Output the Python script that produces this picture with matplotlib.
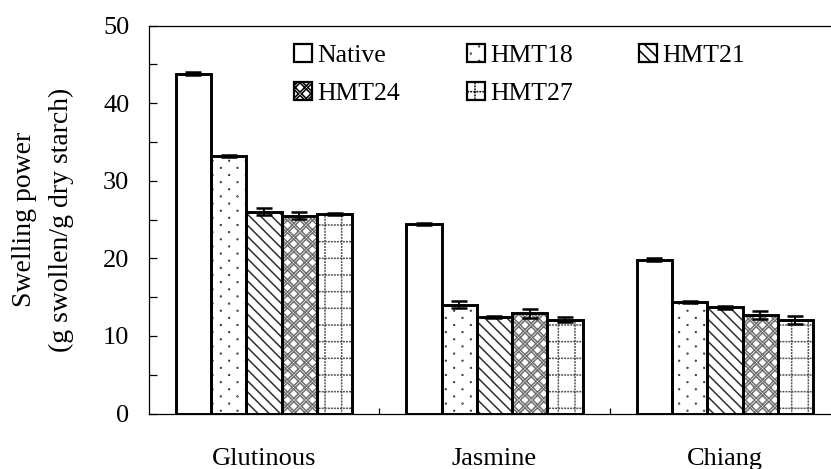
import numpy as np
import matplotlib
matplotlib.use("Agg")
import matplotlib.pyplot as plt
import matplotlib.hatch as mhatch
from matplotlib.path import Path
from matplotlib.patches import Patch
from matplotlib.ticker import MultipleLocator, FixedLocator

# Swelling power of native and heat-moisture treated rice starches
categories = ["Glutinous", "Jasmine", "Chiang"]
series = ["Native", "HMT18", "HMT21", "HMT24", "HMT27"]
values = {
    "Native": [43.8, 24.4, 19.8],
    "HMT18": [33.2, 14.0, 14.4],
    "HMT21": [26.0, 12.4, 13.7],
    "HMT24": [25.5, 12.9, 12.7],
    "HMT27": [25.7, 12.1, 12.1],
}
errors = {
    "Native": [0.15, 0.15, 0.2],
    "HMT18": [0.15, 0.45, 0.15],
    "HMT21": [0.45, 0.15, 0.2],
    "HMT24": [0.45, 0.6, 0.5],
    "HMT27": [0.15, 0.3, 0.5],
}
yticks = [0, 10, 20, 30, 40, 50]


# ---- fill patterns: staggered dots, dotted grid and weave --------------
class StaggeredDots(mhatch.HatchPatternBase):
    """Small dots, staggered rows ('.')."""
    def __init__(self, hatch, density):
        k = hatch.count(".")
        self.cols = 6 * k
        self.rows = 14 * k
        circ = Path.unit_circle()
        self.cv, self.cc = circ.vertices, circ.codes
        self.num_vertices = self.cols * self.rows * len(self.cv)

    def set_vertices_and_codes(self, vertices, codes):
        r = 0.003
        n = len(self.cv)
        i = 0
        for row in range(self.rows):
            y = (row + 0.5) / self.rows
            for c in range(self.cols):
                x = (c + 0.25 + 0.5 * (row % 2)) / self.cols
                vertices[i:i + n] = self.cv * r + [x, y]
                codes[i:i + n] = self.cc
                i += n


class DottedGrid(mhatch.HatchPatternBase):
    """Square grid drawn with dotted lines ('+')."""
    def __init__(self, hatch, density):
        self.lines = 6 * hatch.count("+")
        self.dots = 33
        self.num_vertices = 2 * 2 * self.lines * self.dots

    def set_vertices_and_codes(self, vertices, codes):
        d = 0.002
        i = 0
        for a in range(self.lines):
            p = (a + 0.5) / self.lines
            for b in range(self.dots):
                q = (b + 0.5) / self.dots
                vertices[i] = [q - d, p]
                vertices[i + 1] = [q + d, p]
                vertices[i + 2] = [p, q - d]
                vertices[i + 3] = [p, q + d]
                codes[i:i + 4] = [Path.MOVETO, Path.LINETO,
                                  Path.MOVETO, Path.LINETO]
                i += 4


class Weave(mhatch.HatchPatternBase):
    """Basket weave of short alternating diagonals ('*')."""
    def __init__(self, hatch, density):
        self.cells = 16 * hatch.count("*")
        self.num_vertices = self.cells * self.cells * 4

    def set_vertices_and_codes(self, vertices, codes):
        s = 1.0 / self.cells
        i = 0
        for cy in range(self.cells):
            for cx in range(self.cells):
                x0, y0 = cx * s, cy * s
                if (cx + cy) % 2 == 0:
                    segs = [[(x0, y0 + 0.75 * s), (x0 + 0.75 * s, y0)],
                            [(x0 + 0.25 * s, y0 + s), (x0 + s, y0 + 0.25 * s)]]
                else:
                    segs = [[(x0, y0 + 0.25 * s), (x0 + 0.75 * s, y0 + s)],
                            [(x0 + 0.25 * s, y0), (x0 + s, y0 + 0.75 * s)]]
                for p0, p1 in segs:
                    vertices[i] = p0
                    vertices[i + 1] = p1
                    codes[i] = Path.MOVETO
                    codes[i + 1] = Path.LINETO
                    i += 2


_swap = {mhatch.SmallFilledCircles: StaggeredDots,
         mhatch.HorizontalHatch: DottedGrid,
         mhatch.Stars: Weave}
mhatch._hatch_types = [_swap.get(t, t) for t in mhatch._hatch_types
                       if t is not mhatch.VerticalHatch]

# fill pattern and pattern colour per series
hatches = {"Native": None, "HMT18": ".", "HMT21": "\\\\\\",
           "HMT24": "*", "HMT27": "+"}
hatch_colors = {"Native": "black", "HMT18": "black", "HMT21": "#303030",
                "HMT24": "#707070", "HMT27": "#505050"}

plt.rcParams["font.family"] = ["Liberation Serif", "DejaVu Serif"]
plt.rcParams["hatch.linewidth"] = 1.1
FS = 19

fig = plt.figure(figsize=(8.31, 4.69), dpi=100)
ax = fig.add_axes([0.179, 0.1183, 0.832, 0.8273])

x = np.arange(len(categories))
width = 0.153
n = len(series)
for i, s in enumerate(series):
    pos = x + (i - (n - 1) / 2) * width
    ax.bar(pos, values[s], width, color="white", edgecolor=hatch_colors[s],
           hatch=hatches[s], linewidth=0, zorder=2)
    ax.bar(pos, values[s], width, fill=False, edgecolor="black",
           linewidth=2.1, zorder=3)
    ax.errorbar(pos, values[s], yerr=errors[s], fmt="none", ecolor="black",
                elinewidth=1.4, capsize=5.5, capthick=1.8, zorder=4)

ax.set_xlim(-0.5, 2.5)
ax.set_ylim(0, 50)
ax.set_yticks(yticks)
ax.yaxis.set_minor_locator(MultipleLocator(5))
ax.tick_params(axis="y", which="both", direction="in", length=6, width=0.9,
               labelsize=FS, pad=14, right=False)
ax.set_xticks(x)
ax.set_xticklabels(categories)
ax.xaxis.set_minor_locator(FixedLocator([0.5, 1.5]))
ax.tick_params(axis="x", which="major", length=0, labelsize=FS, pad=25)
ax.tick_params(axis="x", which="minor", direction="in", length=4.5,
               width=0.9, top=False)
for sp in ax.spines.values():
    sp.set_linewidth(0.9)

ax.set_ylabel("Swelling power\n(g swollen/g dry starch)", fontsize=20,
              linespacing=1.6, va="center", ha="center")
ax.yaxis.set_label_coords(-0.1527, 0.5)

# legend filled row by row: Native, HMT18, HMT21 / HMT24, HMT27
order = ["Native", "HMT24", "HMT18", "HMT27", "HMT21"]
handles = [Patch(facecolor="white", edgecolor="black", hatch=hatches[s],
                 linewidth=1.6, label=s) for s in order]
fig.legend(handles=handles, loc="upper left",
           bbox_to_anchor=(294 / 831, 1 - 44 / 469), ncol=3, frameon=False,
           fontsize=FS - 0.5, handlelength=0.7, handleheight=0.7,
           handletextpad=0.2, columnspacing=2.6, labelspacing=0.6,
           borderpad=0, borderaxespad=0)

fig.savefig("out.png", dpi=100)
